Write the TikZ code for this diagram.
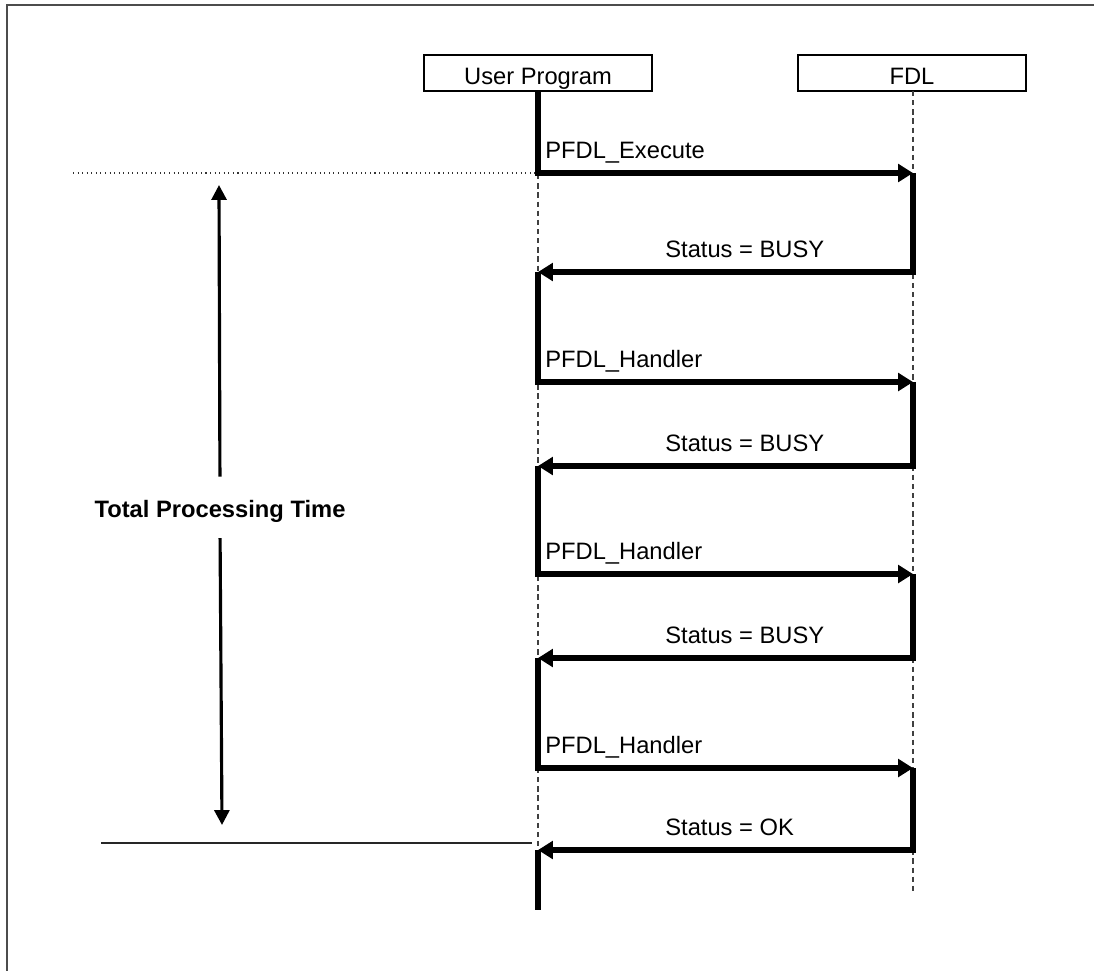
\documentclass[tikz,border=0pt]{standalone}
\usepackage{fontspec}
\setmainfont{Liberation Sans}
\usetikzlibrary{arrows.meta,calc,positioning}

\begin{document}
\begin{tikzpicture}[x=0.02cm, y=-0.02cm]
\tikzstyle{actor}=[rectangle, draw=black, line width=1.1pt, minimum width=4.56cm, minimum height=0.72cm, inner sep=0pt, text height=13pt, text depth=0pt, font=\fontsize{13.5}{16}\selectfont]
\tikzstyle{life}=[draw=black!75, line width=0.7pt, dash pattern=on 3pt off 2.2pt]
\tikzstyle{connect}=[-{Triangle[length=8.5pt, width=10pt]}, line width=3.2pt]
\tikzstyle{active}=[line width=3.2pt]
\tikzstyle{lbl}=[inner sep=0pt, font=\fontsize{13.5}{16}\selectfont]
\tikzstyle{span}=[-{Triangle[length=8.5pt, width=8.5pt]}, line width=1.8pt]
\tikzstyle{frame}=[draw=black!70, line width=1.1pt]

  \useasboundingbox (0,0) rectangle (1094,971);

  % page frame
  \coordinate (topright) at (1094,5);
  \coordinate (corner)   at (7,5);
  \coordinate (botleft)  at (7,971);
  \draw[frame] (topright) -- (corner) -- (botleft);

  \node[actor] (user) at (538,73) {User Program};
  \node[actor] (fdl)  at (912,73) {FDL};

  % message points on the two lifelines
  \foreach \n/\y in {1/173, 2/272, 3/382, 4/466, 5/574, 6/658, 7/768, 8/850} {
    \coordinate (u\n) at (538,\y);
    \coordinate (f\n) at (913,\y);
  }
  \coordinate (uend) at (538,910);
  \coordinate (fend) at (913,893);

  \draw[life] (user.south) -- (uend);
  \draw[life] (913,91) -- (fend);

  \draw[connect] (user.south) -- (u1) -- (f1);
  \draw[connect] (f1) -- (f2) -- (u2);
  \draw[connect] (u2) -- (u3) -- (f3);
  \draw[connect] (f3) -- (f4) -- (u4);
  \draw[connect] (u4) -- (u5) -- (f5);
  \draw[connect] (f5) -- (f6) -- (u6);
  \draw[connect] (u6) -- (u7) -- (f7);
  \draw[connect] (f7) -- (f8) -- (u8);
  \draw[active] (u8) -- (uend);

  \node[lbl, anchor=base west] (call1) at ($(u1)+(7,-15)$) {PFDL\_Execute};
  \node[lbl, anchor=base west] (ret1)  at ($(f2)+(-248,-15)$) {Status = BUSY};
  \node[lbl, anchor=base west] (call2) at ($(u3)+(7,-15)$) {PFDL\_Handler};
  \node[lbl, anchor=base west] (ret2)  at ($(f4)+(-248,-15)$) {Status = BUSY};
  \node[lbl, anchor=base west] (call3) at ($(u5)+(7,-15)$) {PFDL\_Handler};
  \node[lbl, anchor=base west] (ret3)  at ($(f6)+(-248,-15)$) {Status = BUSY};
  \node[lbl, anchor=base west] (call4) at ($(u7)+(7,-15)$) {PFDL\_Handler};
  \node[lbl, anchor=base west] (ret4)  at ($(f8)+(-248,-15)$) {Status = OK};

  % processing time span
  \coordinate (startmark) at (73,173);
  \coordinate (startend)  at (535,173);
  \coordinate (stopmark)  at (101,843);
  \coordinate (stopend)   at (532,843);
  \draw[draw=black!80, line width=0.6pt, dotted] (startmark) -- (startend);
  \draw[draw=black!85, line width=1pt] (stopmark) -- (stopend);

  \node[lbl, font=\fontsize{13.5}{16}\selectfont\bfseries, inner sep=3pt, anchor=base] (total) at (220,517) {Total Processing Time};
  \coordinate (timetop) at (219,185);
  \coordinate (timebot) at (222,825);
  \draw[span, shorten <=10pt] (total.north) -- (timetop);
  \draw[span, shorten <=6pt] (total.south) -- (timebot);

\end{tikzpicture}
\end{document}
